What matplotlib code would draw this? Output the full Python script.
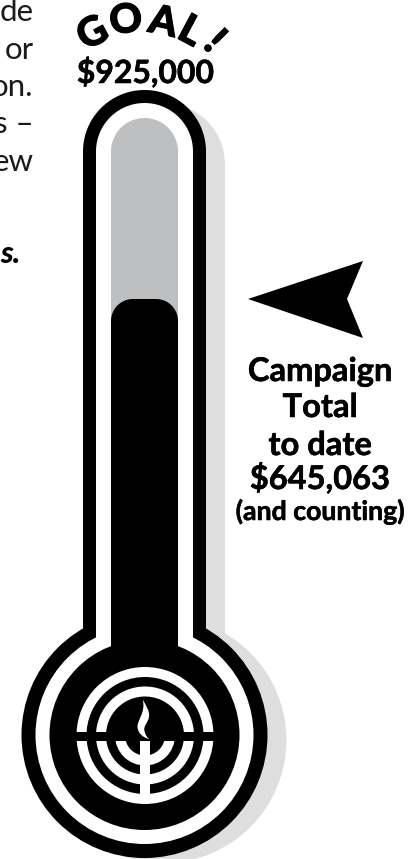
import numpy as np
import matplotlib
matplotlib.use('Agg')
import matplotlib.pyplot as plt
import matplotlib.patheffects as pe
from matplotlib.patches import Circle, Wedge, Polygon, Rectangle, PathPatch
from matplotlib.path import Path

# values
goal = 925000
raised = 645063
goal_label = '$925,000'
goal_letters = ['G', 'O', 'A', 'L', '!']
total_lines = ['Campaign', 'Total', 'to date', '$645,063']
total_note = '(and counting)'
cut_text = ['de', 'or', 'on.', 's –', 'ew']
cut_bold = 's.'

W, H = 418, 859
FONT = 'Lato'
BLACK = '#000000'
SHADOW = '#dedede'
GREY = '#bebfc1'

# scale of the column: pixel row for goal and for raised
px_goal, px_raised = 118, 299
px_per_dollar = (px_raised - px_goal) / (goal - raised)
px_zero = px_goal + goal * px_per_dollar


def rounded_top(x0, x1, top, r, bottom):
    t = np.linspace(np.pi, np.pi / 2, 30)
    left = np.column_stack([x0 + r + r * np.cos(t), top + r - r * np.sin(t)])
    t = np.linspace(np.pi / 2, 0, 30)
    right = np.column_stack([x1 - r + r * np.cos(t), top + r - r * np.sin(t)])
    return np.vstack([[[x0, bottom]], left, right, [[x1, bottom]]])


def thermo(ax, dx, dy, half, top, radius, color, bulb_dy=0):
    cx, cy = 144.5, 735
    ax.add_patch(Polygon(rounded_top(cx - half + dx, cx + half + dx, top + dy, half, cy),
                         fc=color, ec='none'))
    ax.add_patch(Circle((cx + dx, cy + bulb_dy), radius, fc=color, ec='none'))


fig = plt.figure(figsize=(W / 100, H / 100), dpi=100)

ax = fig.add_axes([0, 0, 1, 1], zorder=1)
ax.set_xlim(0, W)
ax.set_ylim(H, 0)
ax.axis('off')

thermo(ax, 19, 13, 61.5, 90, 123, SHADOW, bulb_dy=5)
thermo(ax, 0, 0, 61.5, 90, 123, BLACK)
thermo(ax, 0, 0, 48.5, 103, 109, 'white')
ax.add_patch(Circle((144.5, 735), 95, fc=BLACK, ec='none'))

# column in dollars
ax_v = fig.add_axes([0, 0, 1, 1], zorder=2)
ax_v.set_xlim(0, W)
ax_v.set_ylim((px_zero - H) / px_per_dollar, px_zero / px_per_dollar)
ax_v.axis('off')
ax_v.patch.set_alpha(0)

goal_bar = ax_v.bar(144.5, goal, width=67, color=GREY)[0]
goal_clip = Polygon(rounded_top(111, 178, px_goal, 33.5, px_zero), transform=ax.transData)
goal_bar.set_clip_path(goal_clip)
raised_bar = ax_v.bar(144.5, raised, width=67, color=BLACK)[0]
raised_clip = Polygon(rounded_top(111, 178, px_raised, 22, px_zero), transform=ax.transData)
raised_bar.set_clip_path(raised_clip)

# logo and text on top
top = fig.add_axes([0, 0, 1, 1], zorder=3)
top.set_xlim(0, W)
top.set_ylim(H, 0)
top.axis('off')
top.patch.set_alpha(0)

logo = (145, 735.5)
top.add_patch(Wedge(logo, 68.5, 0, 360, width=10, fc='white', ec='none'))
top.add_patch(Wedge(logo, 49, 0, 360, width=10, fc='white', ec='none'))
top.add_patch(Wedge(logo, 30, 0, 180, width=10, fc='white', ec='none'))
top.add_patch(Rectangle((74, 732), 142, 8.5, fc=BLACK, ec='none'))
top.add_patch(Rectangle((139.5, 740.5), 10.5, 56, fc='white', ec='none'))

flame = [(142.7, 699.3), (146, 706), (150, 711), (149, 717), (148, 723), (143, 726), (144.5, 731),
         (145.5, 735), (147, 737.5), (149.3, 739), (144, 738), (138, 734), (137.5, 727),
         (137, 720), (146, 713), (142.7, 699.3)]
codes = [Path.MOVETO] + [Path.CURVE4] * 15
top.add_patch(PathPatch(Path(flame, codes), fc='white', ec='none'))

# arrow
top.add_patch(Polygon([(248, 299), (363, 261), (347, 299), (363, 338)], fc=BLACK, ec='none'))

heavy = [pe.withStroke(linewidth=0.8, foreground=BLACK)]
semi = [pe.withStroke(linewidth=0.4, foreground=BLACK)]

# arc of letters
letter_x = [93, 126, 163, 190, 214]
letter_y = [34, 21, 23, 32, 42]
letter_rot = [28, 8, -12, -28, -45]
for s, x, y, r in zip(goal_letters, letter_x, letter_y, letter_rot):
    top.text(x, y, s, family=FONT, fontweight='black', fontsize=29, rotation=r,
             rotation_mode='anchor', ha='center', va='center', color=BLACK, path_effects=heavy)
top.text(145.5, 83, goal_label, family=FONT, fontweight='bold', fontsize=23,
         ha='center', va='baseline', color=BLACK, path_effects=semi)

line_y = [381, 417, 455, 489]
for s, y in zip(total_lines, line_y):
    top.text(320, y, s, family=FONT, fontweight='bold', fontsize=23.5,
             ha='center', va='baseline', color=BLACK, path_effects=semi)
top.text(320, 520, total_note, family=FONT, fontweight='bold', fontsize=19.2,
         ha='center', va='baseline', color=BLACK, path_effects=semi)

cut_y = [21, 59, 96, 133, 171]
for s, y in zip(cut_text, cut_y):
    top.text(33.5, y, s, family=FONT, fontsize=22.5, ha='right', va='baseline', color='#1a1a1a')
top.text(21, 263, cut_bold, family=FONT, fontweight='black', style='italic', fontsize=22.5,
         ha='right', va='baseline', color=BLACK)

fig.savefig('out.png', dpi=100)
